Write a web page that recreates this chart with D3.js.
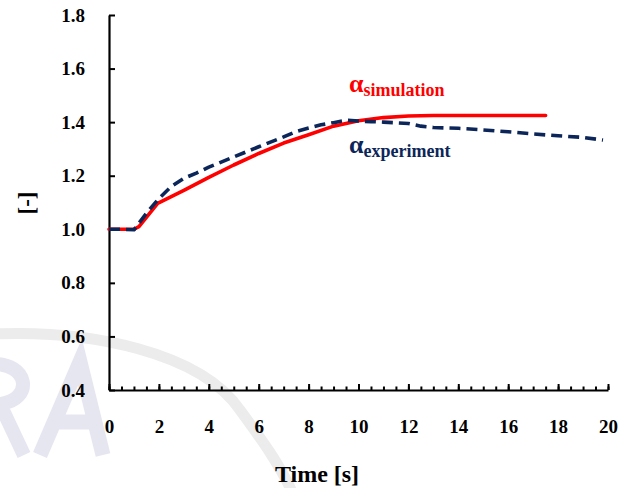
<!DOCTYPE html>
<html>
<head>
<meta charset="utf-8">
<script src="https://cdn.jsdelivr.net/npm/d3@7"></script>
<style>
  html, body { margin: 0; padding: 0; background: #ffffff; }
  svg { display: block; }
</style>
</head>
<body>
<svg id="chart" width="635" height="488"></svg>
<script>
// ---- data ----
const simTime  = [0, 1, 1.2, 1.95, 3, 4, 5, 6, 7, 8, 9, 10, 11, 12, 13, 14, 15, 16, 17, 17.5];
const simValue = [1.0, 1.0, 1.01, 1.097, 1.145, 1.194, 1.24, 1.283, 1.322, 1.353, 1.385, 1.405, 1.417, 1.423, 1.425, 1.425, 1.425, 1.425, 1.425, 1.425];

const expTime  = [0, 0.5, 1, 1.5, 2, 2.5, 3, 3.5, 4, 5, 6, 7, 7.5, 8, 8.5, 9, 9.5, 10, 10.5, 11, 12, 12.5, 13, 14, 15, 16, 17, 18, 19, 19.8];
const expValue = [1.0, 1.0, 0.998, 1.06, 1.115, 1.16, 1.19, 1.21, 1.232, 1.27, 1.308, 1.345, 1.365, 1.378, 1.39, 1.398, 1.407, 1.404, 1.402, 1.4, 1.395, 1.385, 1.38, 1.377, 1.371, 1.364, 1.356, 1.349, 1.343, 1.333];

const xTicks = [0, 2, 4, 6, 8, 10, 12, 14, 16, 18, 20];
const xMinorTicks = d3.range(0, 20.001, 0.5);
const yTicks = [0.4, 0.6, 0.8, 1.0, 1.2, 1.4, 1.6, 1.8];

const seriesNames = ["simulation", "experiment"];
const seriesColors = ["#ff0000", "#0c2659"];

const SERIF = "'Liberation Serif', Tinos, 'Times New Roman', 'Nimbus Roman', 'FreeSerif', 'DejaVu Serif', 'Noto Serif', serif";

// ---- layout ----
const svg = d3.select("#chart");
const x = d3.scaleLinear().domain([0, 20]).range([109, 608]);
const y = d3.scaleLinear().domain([0.4, 1.8]).range([390, 15]);

// faint background watermark (drawn as shapes, behind the chart)
const wm = svg.append("g");
const arc = d3.path();
arc.moveTo(-5, 334);
arc.bezierCurveTo(90, 330, 200, 352, 240, 410);
arc.bezierCurveTo(262, 440, 280, 465, 292, 492);
wm.append("path").attr("d", arc.toString())
  .attr("fill", "none").attr("stroke", "#ececec").attr("stroke-width", 11)
  .attr("stroke-linecap", "round");
const aShape = d3.path();
aShape.moveTo(40, 455); aShape.lineTo(80, 362); aShape.lineTo(103, 455);
aShape.moveTo(56, 422); aShape.lineTo(96, 422);
wm.append("path").attr("d", aShape.toString())
  .attr("fill", "none").attr("stroke", "#e6e6f1").attr("stroke-width", 15)
  .attr("stroke-linejoin", "miter");
const rShape = d3.path();
rShape.moveTo(-10, 364);
rShape.bezierCurveTo(30, 362, 34, 400, 0, 404);
rShape.lineTo(24, 455);
wm.append("path").attr("d", rShape.toString())
  .attr("fill", "none").attr("stroke", "#e6e6f1").attr("stroke-width", 14);

// axes
const yAxis = d3.axisLeft(y).tickValues(yTicks).tickFormat(d3.format(".1f"))
  .tickSizeInner(-6).tickSizeOuter(0).tickPadding(24);
const gy = svg.append("g").attr("transform", `translate(${x(0)},0)`).call(yAxis);

const xMinor = d3.axisBottom(x).tickValues(xMinorTicks).tickFormat("")
  .tickSizeInner(-3.5).tickSizeOuter(0);
const gxm = svg.append("g").attr("transform", `translate(0,${y(0.4)})`).call(xMinor);

const xAxis = d3.axisBottom(x).tickValues(xTicks).tickFormat(d3.format("d"))
  .tickSizeInner(-6).tickSizeOuter(0).tickPadding(30);
const gx = svg.append("g").attr("transform", `translate(0,${y(0.4)})`).call(xAxis);

[gy, gx, gxm].forEach(g => {
  g.attr("font-family", SERIF).attr("font-size", 19).attr("font-weight", "bold");
  g.selectAll(".domain").attr("stroke", "#000").attr("stroke-width", 2.2);
  g.selectAll(".tick line").attr("stroke", "#000").attr("stroke-width", 2);
  g.selectAll("text").attr("font-family", SERIF).attr("font-weight", "bold")
    .attr("font-size", 19).attr("fill", "#000");
});
gxm.select(".domain").remove();

// lines
const line = d3.line().x(d => x(d[0])).y(d => y(d[1]));
const simData = simTime.map((t, i) => [t, simValue[i]]);
const expData = expTime.map((t, i) => [t, expValue[i]]);

svg.append("path").datum(simData).attr("d", line)
  .attr("fill", "none").attr("stroke", seriesColors[0]).attr("stroke-width", 3.6)
  .attr("stroke-linejoin", "round").attr("stroke-linecap", "round");
svg.append("path").datum(expData).attr("d", line)
  .attr("fill", "none").attr("stroke", seriesColors[1]).attr("stroke-width", 3.6)
  .attr("stroke-dasharray", "11,6").attr("stroke-linejoin", "round");

// legend labels
function label(xp, yp, sub, color) {
  const t = svg.append("text").attr("font-family", SERIF).attr("font-weight", "bold")
    .attr("x", xp).attr("y", yp).attr("fill", color);
  t.append("tspan").attr("font-size", 26).text("α");
  t.append("tspan").attr("font-size", 18).attr("dy", 4).text(sub);
}
label(349, 92, seriesNames[0], seriesColors[0]);
label(349, 153, seriesNames[1], seriesColors[1]);

// axis titles
svg.append("text").attr("font-family", SERIF).attr("font-weight", "bold")
  .attr("x", 317).attr("y", 482)
  .attr("text-anchor", "middle").attr("font-size", 24).attr("fill", "#000").text("Time [s]");
svg.append("text").attr("font-family", SERIF).attr("font-weight", "bold")
  .attr("transform", "translate(34,203) rotate(-90)")
  .attr("text-anchor", "middle").attr("font-size", 23).attr("fill", "#000").text("[-]");
</script>
</body>
</html>
